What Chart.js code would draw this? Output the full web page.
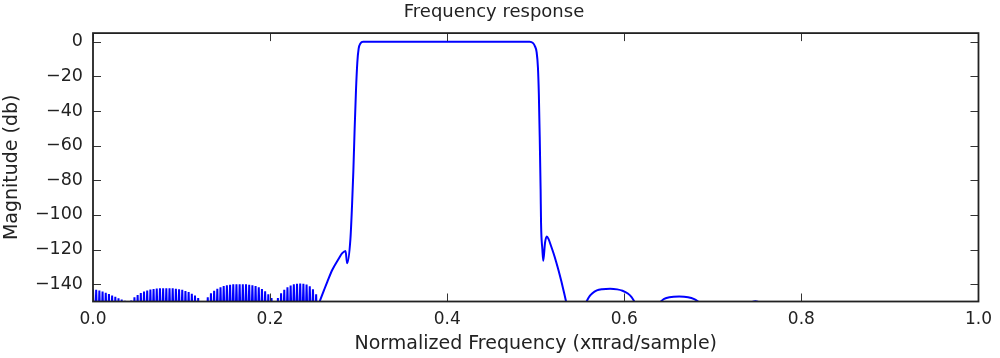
<!DOCTYPE html>
<html>
<head>
<meta charset="utf-8">
<script src="https://cdn.jsdelivr.net/npm/chart.js@4/dist/chart.umd.min.js"></script>
<style>
  html, body { margin: 0; padding: 0; background: #fff; }
  #wrap { width: 1000px; height: 358px; }
</style>
</head>
<body>
<div id="wrap"><canvas id="freqResponse"></canvas></div>
<script>
// tick values
const yTicks = [0, -20, -40, -60, -80, -100, -120, -140];

// stopband ripple below 0.26: envelope of the fast oscillation, one value per 0.0036
const rippleStep = 0.0036;
const rippleTop = [
  -143, -143.2, -143.6, -144.2, -144.9, -145.7, -146.5, -147.3, -148.1, -148.9, -149.6, -150.3,
  -149.5, -147.6, -146.2, -145.1, -144.3, -143.6, -143.1, -142.8, -142.5, -142.4, -142.3, -142.3,
  -142.3, -142.4, -142.6, -142.9, -143.3, -143.9, -144.6, -145.5, -146.6, -148.0, -149.8,
  -150.5, -147.5, -145.3, -143.8, -142.7, -141.8, -141.1, -140.6, -140.3, -140.1, -140.0, -140.0,
  -140.0, -140.1, -140.3, -140.6, -141.1, -141.8, -142.8, -144.1, -145.8, -148.0, -150.3,
  -148.0, -145.2, -143.2, -141.8, -140.8, -140.1, -139.7, -139.6, -139.7, -140.2, -141.2, -143.0,
  -145.8, -150.5
];

// transition bands, passband and upper stopband lobes (null = below the axis)
const mainFreq = [
  0.2556, 0.261, 0.2647, 0.2703, 0.2778, 0.2815, 0.2852, 0.287, 0.2907, 0.2925, 0.294, 0.2955,
  0.297, 0.2985, 0.300, 0.302, 0.305, 0.40, 0.493, 0.497, 0.499, 0.501, 0.5025, 0.5035, 0.5045,
  0.5055, 0.506, 0.5075, 0.5085, 0.5105, 0.5125, 0.5145, 0.517, 0.520, 0.523, 0.526, 0.529, 0.532,
  0.5345, 0.545,
  0.557, 0.560, 0.564, 0.569, 0.575, 0.584, 0.592, 0.598, 0.604, 0.608, 0.612, 0.625,
  0.640, 0.645, 0.651, 0.662, 0.672, 0.679, 0.685, 0.72,
  0.744, 0.748, 0.752
];
const mainMag = [
  -150.5, -143.3, -138.5, -131.7, -125, -122.1, -120.8, -127.9, -114, -95, -75, -50,
  -28, -12, -4, -1, 0, 0, 0, -0.8, -2.5, -6, -15, -30, -55,
  -85, -105, -120, -126.5, -116, -112.5, -114, -117.5, -122, -127, -132.5, -138.5, -145,
  -150.5, null,
  -150.5, -147.5, -145.2, -143.6, -142.9, -142.6, -143.0, -143.8, -145.4, -147.3, -150.5, null,
  -150.5, -148.5, -147.5, -147.1, -147.5, -148.6, -150.5, null,
  -150.3, -149.9, -150.3
];

const rippleData = [];
rippleTop.forEach((v, i) => {
  rippleData.push({ x: i * rippleStep, y: v });
  rippleData.push({ x: i * rippleStep + rippleStep / 2, y: -175 });
});
const mainData = mainFreq.map((f, i) => ({ x: f, y: mainMag[i] }));

const textColor = "#222";
const fontFamily = "'DejaVu Sans', sans-serif";

// matplotlib-like box with inward ticks on all four sides
const frameTicks = {
  id: "frameTicks",
  afterDatasetsDraw(chart) {
    const { ctx, chartArea: a, scales } = chart;
    const x = scales.x, y = scales.y;
    ctx.save();
    ctx.strokeStyle = "#333";
    ctx.lineWidth = 1;
    ctx.beginPath();
    x.ticks.forEach((t) => {
      const px = Math.round(x.getPixelForValue(t.value)) + 0.5;
      ctx.moveTo(px, a.bottom); ctx.lineTo(px, a.bottom - 8);
      ctx.moveTo(px, a.top); ctx.lineTo(px, a.top + 8);
    });
    y.ticks.forEach((t) => {
      const py = Math.round(y.getPixelForValue(t.value)) + 0.5;
      ctx.moveTo(a.left, py); ctx.lineTo(a.left + 8, py);
      ctx.moveTo(a.right, py); ctx.lineTo(a.right - 8, py);
    });
    ctx.stroke();
    ctx.strokeStyle = "#222";
    ctx.lineWidth = 1.8;
    ctx.strokeRect(a.left, a.top, a.right - a.left, a.bottom - a.top);
    ctx.restore();
  },
};

const config = {
  type: "line",
  data: {
    datasets: [
      {
        label: "ripple",
        data: rippleData,
        borderColor: "#0000ff",
        borderWidth: 2,
        pointRadius: 0,
        tension: 0,
        clip: 0,
      },
      {
        label: "response",
        data: mainData,
        borderColor: "#0000ff",
        borderWidth: 2,
        pointRadius: 0,
        cubicInterpolationMode: "monotone",
        spanGaps: false,
        clip: 0,
      },
    ],
  },
  options: {
    responsive: true,
    maintainAspectRatio: false,
    animation: false,
    devicePixelRatio: 1,
    layout: { padding: { left: 0, right: 12, top: 0, bottom: 0 } },
    plugins: {
      legend: { display: false },
      tooltip: { enabled: false },
      title: {
        display: true,
        text: "Frequency response",
        color: textColor,
        font: { family: fontFamily, size: 18, weight: "normal" },
        padding: { top: 1.5, bottom: 10 },
      },
    },
    scales: {
      x: {
        type: "linear",
        min: 0,
        max: 1,
        grid: { display: false, drawTicks: false },
        border: { display: false },
        ticks: {
          stepSize: 0.2,
          padding: 8,
          color: textColor,
          font: { family: fontFamily, size: 17 },
          maxRotation: 0,
          callback: (v) => v.toFixed(1),
        },
        title: {
          display: true,
          text: "Normalized Frequency (x\u03c0rad/sample)",
          color: textColor,
          font: { family: fontFamily, size: 19 },
          padding: { top: 0, bottom: 2.6 },
        },
        afterFit: (s) => { s.height = 56.5; },
      },
      y: {
        type: "linear",
        min: -150,
        max: 5,
        grid: { display: false, drawTicks: false },
        border: { display: false },
        ticks: {
          padding: 10,
          color: textColor,
          font: { family: fontFamily, size: 17.5 },
          callback: (v) => (v < 0 ? "\u2212" + Math.abs(v) : String(v)),
        },
        afterBuildTicks: (axis) => { axis.ticks = yTicks.map((v) => ({ value: v })); },
        title: {
          display: true,
          text: "Magnitude (db)",
          color: textColor,
          font: { family: fontFamily, size: 19 },
          padding: { top: 0.6, bottom: 0 },
        },
        afterFit: (s) => { s.width = 93; },
      },
    },
  },
  plugins: [frameTicks],
};

const freqChart = new Chart(document.getElementById("freqResponse"), config);
</script>
</body>
</html>
